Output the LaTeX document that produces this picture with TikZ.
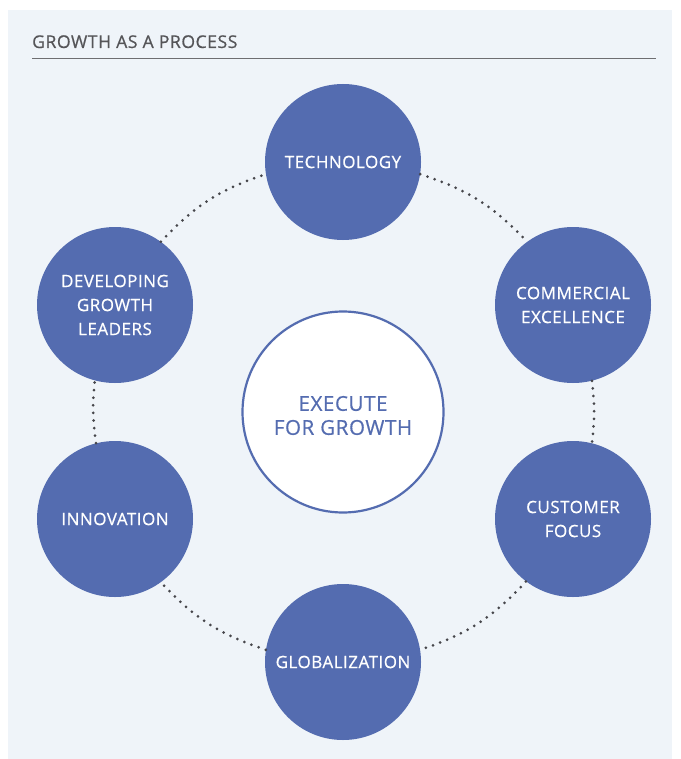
\documentclass[tikz,border=0pt]{standalone}
\usepackage{fontspec}
\setmainfont{Open Sans}[FakeBold=0.6,LetterSpace=3]
\definecolor{panelbg}{RGB}{239,244,249}
\definecolor{ringblue}{RGB}{84,108,176}
\definecolor{titlegray}{RGB}{85,85,88}
\definecolor{dotgray}{RGB}{70,70,75}
\begin{document}
\begin{tikzpicture}[x=1pt,y=-1pt]
  \tikzstyle{stage}=[circle,fill=ringblue,text=white,minimum size=156pt,inner sep=0pt,align=center,
                     font=\fontsize{17}{24}\selectfont]
  \tikzstyle{hub}=[circle,draw=ringblue,line width=2.2pt,fill=white,minimum size=201pt,inner sep=0pt]
  \tikzstyle{hubtext}=[text=ringblue,inner sep=0pt,align=center,font=\fontsize{20.5}{24}\selectfont]
  \tikzstyle{ringlink}=[draw=dotgray,line width=3pt,line cap=round,dash pattern=on 0pt off 7.6pt]
  \useasboundingbox (0,0) rectangle (680,759);
  \fill[panelbg] (8,10) rectangle (672,759);
  % heading
  \node[anchor=base west,inner sep=0pt,text=titlegray,font=\fontsize{17.6}{20}\selectfont] (title) at (32,48) {GROWTH AS A PROCESS};
  \draw[titlegray!85,line width=1.5pt] (32,58.5) -- (656,58.5);
  % ring
  \node[stage] (tech) at (343,162) {TECHNOLOGY};
  \node[stage] (comm) at (573,305) {COMMERCIAL\\EXCELLENCE};
  \node[stage] (cust) at (573,519) {CUSTOMER\\FOCUS};
  \node[stage] (glob) at (343,662) {GLOBALIZATION};
  \node[stage] (innov) at (115,519) {INNOVATION};
  \node[stage] (lead) at (115,305) {DEVELOPING\\GROWTH\\LEADERS};
  \node[hub] (exec) at (343,412) {};
  \node[hubtext] (execlbl) at (343,415.5) {EXECUTE\\FOR GROWTH};
  \draw[ringlink] (tech.-9) to[bend left=14.5] (comm.126.6);
  \draw[ringlink] (comm.-76.7) to[bend left=7] (cust.76.7);
  \draw[ringlink] (cust.233.4) to[bend left=14.5] (glob.9);
  \draw[ringlink] (glob.171) to[bend left=14.5] (innov.-54.6);
  \draw[ringlink] (innov.104.7) to[bend left=7] (lead.255.3);
  \draw[ringlink] (lead.54.6) to[bend left=14.5] (tech.189);
\end{tikzpicture}
\end{document}
